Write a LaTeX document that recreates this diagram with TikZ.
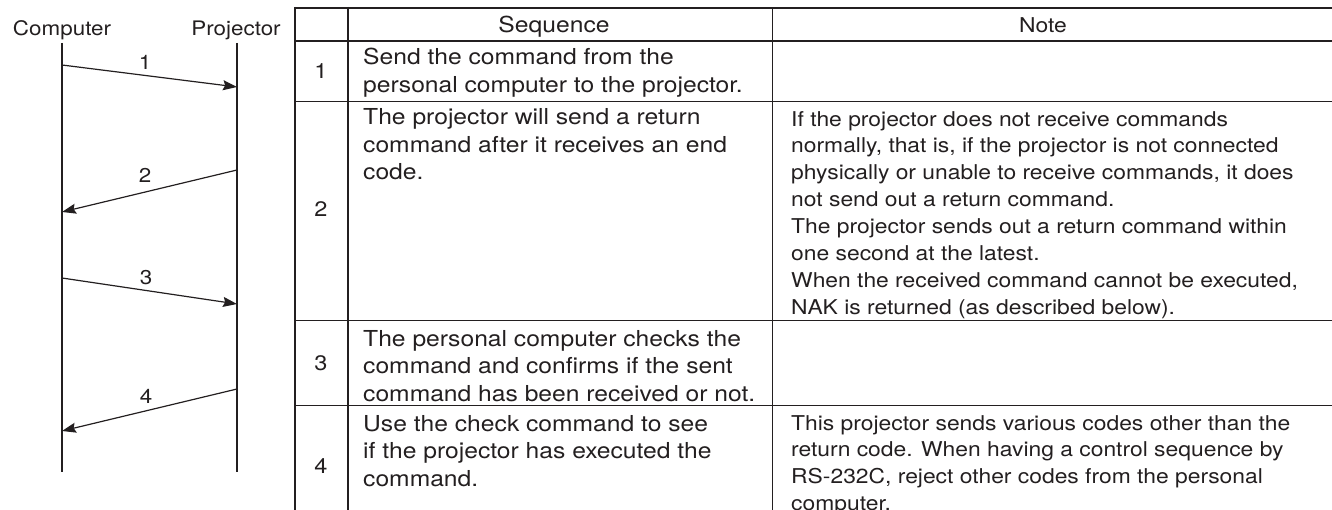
\documentclass[tikz,border=0pt]{standalone}
\usepackage{fontspec}
\setmainfont{TeX Gyre Heros}[FakeStretch=1.12]
\usetikzlibrary{arrows.meta}
\definecolor{ink}{HTML}{231F20}
\begin{document}
\begin{tikzpicture}[x=1pt,y=-1pt,
  seqtxt/.style={font=\fontsize{22}{27.5}\selectfont, text=ink, inner sep=0pt, align=left, anchor=base west},
  notetxt/.style={font=\fontsize{20.4}{26.9}\selectfont, text=ink, inner sep=0pt, align=left, anchor=base west},
  num/.style={font=\fontsize{20}{26.9}\selectfont, text=ink, inner sep=0pt, anchor=base},
  rownum/.style={font=\fontsize{21}{26.9}\selectfont, text=ink, inner sep=0pt, anchor=base},
  thick line/.style={draw=ink, line width=2pt},
  thin line/.style={draw=ink, line width=1pt},
  life/.style={draw=ink, line width=1.3pt},
  msg/.style={draw=ink, line width=1.2pt, -{Stealth[length=14pt,width=10pt,inset=2pt]}}]
\useasboundingbox (0,0) rectangle (1332,510);
\clip (0,0) rectangle (1332,510);

% ---- sequence diagram ----
\node[num] (comp) at (62,36) {Computer};
\node[num] (proj) at (236,36) {Projector};
\coordinate (ctop) at (62,43);
\coordinate (cbot) at (62,472);
\coordinate (ptop) at (237,43);
\coordinate (pbot) at (237,472);
\draw[life] (ctop) -- (cbot);
\draw[life] (ptop) -- (pbot);

\coordinate (c1) at (62,65);   \coordinate (p1) at (237,87);
\coordinate (p2) at (237,170); \coordinate (c2) at (62,212);
\coordinate (c3) at (62,278);  \coordinate (p3) at (237,304);
\coordinate (p4) at (237,389); \coordinate (c4) at (62,431);
\draw[msg] (c1) -- (p1);
\draw[msg] (p2) -- (c2);
\draw[msg] (c3) -- (p3);
\draw[msg] (p4) -- (c4);
\node[num] (l1) at (145,70) {1};
\node[num] (l2) at (145,183) {2};
\node[num] (l3) at (146,285) {3};
\node[num] (l4) at (146,403) {4};

% ---- table ----
\draw[thick line] (295,8) -- (1332,8);
\draw[thick line] (295,41.5) -- (1332,41.5);
\draw[thin line] (295,102) -- (1332,102);
\draw[thin line] (295,320.5) -- (1332,320.5);
\draw[thin line] (295,405.5) -- (1332,405.5);
\draw[thick line] (295,7) -- (295,510);
\draw[thick line] (348,7) -- (348,510);
\draw[thin line] (772,8) -- (772,510);

\node[rownum, font=\fontsize{22}{27.5}\selectfont] (hseq) at (554,33) {Sequence};
\node[rownum, font=\fontsize{20.4}{26.9}\selectfont] (hnote) at (1043,33) {Note};

\node[rownum] (n1) at (321,79) {1};
\node[rownum] (n2) at (321,217) {2};
\node[rownum] (n3) at (321,370) {3};
\node[rownum] (n4) at (321,473) {4};

% anchors are at the baseline of the last line of each text
\node[seqtxt] (s1) at (363,92.5) {Send the command from the\\personal computer to the projector.};
\node[seqtxt] (s2) at (363,180) {The projector will send a return\\command after it receives an end\\code.};
\node[notetxt] (t2) at (791,314.3) {If the projector does not receive commands\\normally, that is, if the projector is not connected\\physically or unable to receive commands, it does\\not send out a return command.\\The projector sends out a return command within\\one second at the latest.\\When the received command cannot be executed,\\NAK is returned (as described below).};
\node[seqtxt] (s3) at (363,401) {The personal computer checks the\\command and confirms if the sent\\command has been received or not.};
\node[seqtxt] (s4) at (363,486) {Use the check command to see\\if the projector has executed the\\command.};
\node[notetxt] (t4) at (791,510.7) {This projector sends various codes other than the\\return code. When having a control sequence by\\RS-232C, reject other codes from the personal\\computer.};
\end{tikzpicture}
\end{document}
